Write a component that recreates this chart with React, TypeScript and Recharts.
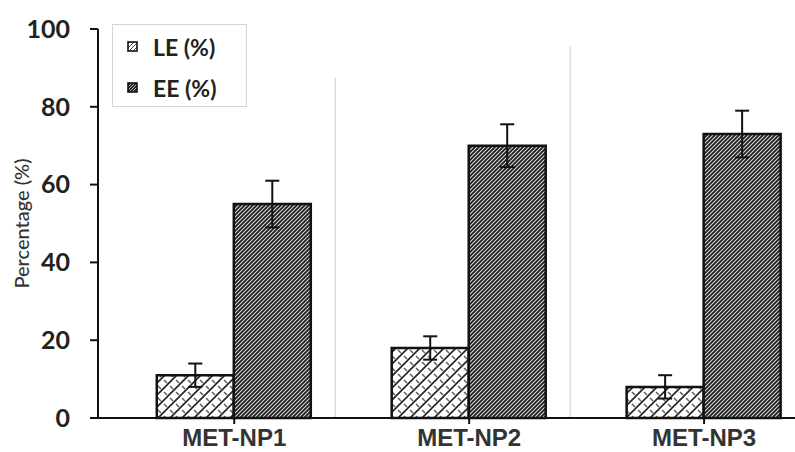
import React from "react";
import { Bar, BarChart, ErrorBar, ReferenceLine, XAxis, YAxis } from "recharts";

const categories = ["MET-NP1", "MET-NP2", "MET-NP3"];
const leValues = [11, 18, 8];
const leErrors = [3, 3, 3];
const eeValues = [55, 70, 73];
const eeErrors = [6, 5.5, 6];
const yTicks = [0, 20, 40, 60, 80, 100];
const legendItems = [
    { label: "LE (%)", fill: "url(#leIcon)" },
    { label: "EE (%)", fill: "url(#eeIcon)" },
];

const data = categories.map((name, i) => ({
    x: i,
    name,
    le: leValues[i],
    leErr: leErrors[i],
    ee: eeValues[i],
    eeErr: eeErrors[i],
}));

const FONT = "Lato, 'Open Sans', sans-serif";

function LegendBox() {
    return (
        <div style={{ position: "absolute", left: 112, top: 24, border: "1px solid #d4d4d4", width: 135, height: 83, boxSizing: "border-box", padding: "1px 0 0 14px", background: "#fff" }}>
            <svg width={0} height={0} style={{ position: "absolute" }}>
                <defs>
                    <pattern id="leIcon" width="4" height="4" patternUnits="userSpaceOnUse">
                        <rect width="4" height="4" fill="#fff" />
                        <path d="M0,4 L4,0" stroke="#444" strokeWidth={1} />
                    </pattern>
                    <pattern id="eeIcon" width="3" height="3" patternUnits="userSpaceOnUse">
                        <rect width="3" height="3" fill="#222" />
                        <path d="M0,3 L3,0" stroke="#ddd" strokeWidth={0.8} />
                    </pattern>
                </defs>
            </svg>
            {legendItems.map((it) => (
                <div key={it.label} style={{ display: "flex", alignItems: "center", height: 41 }}>
                    <svg width={11} height={11} style={{ marginRight: 15 }}>
                        <rect x={1} y={1} width={9} height={9} fill={it.fill} stroke="#111" strokeWidth={1.6} />
                    </svg>
                    <span style={{ fontFamily: FONT, fontWeight: 700, fontSize: 23, color: "#222" }}>{it.label}</span>
                </div>
            ))}
        </div>
    );
}

export default function App() {
    return (
        <div style={{ position: "relative", width: 795, height: 452, overflow: "hidden", background: "#fff" }}>
            <style>{`body{margin:0}`}</style>
            <BarChart width={795} height={452} data={data} barSize={77} barGap={0} margin={{ top: 29, right: 0, left: 0, bottom: 0 }}>
                <defs>
                    <pattern id="leHatch" width="12" height="12" patternUnits="userSpaceOnUse">
                        <rect width="12" height="12" fill="#fff" />
                        <path d="M0,12 L12,0 M-2,2 L2,-2 M10,14 L14,10" stroke="#222" strokeWidth={1.6} />
                        <path d="M2,2 L5,5 M8,8 L11,11" stroke="#555" strokeWidth={1.4} />
                    </pattern>
                    <pattern id="eeHatch" width="4" height="4" patternUnits="userSpaceOnUse">
                        <rect width="4" height="4" fill="#1e1e1e" />
                        <path d="M0,4 L4,0 M-1,1 L1,-1 M3,5 L5,3" stroke="#d8d8d8" strokeWidth={1.1} />
                    </pattern>
                </defs>
                <XAxis
                    dataKey="x"
                    type="number"
                    domain={[-0.58, 2.387]}
                    allowDataOverflow
                    ticks={[0, 1, 2]}
                    tickFormatter={(v) => categories[v] ?? ""}
                    height={34}
                    tickSize={6}
                    tickMargin={5}
                    stroke="#111"
                    strokeWidth={2}
                    tick={{ fill: "#333", fontSize: 24, fontWeight: 700, fontFamily: "Arial, 'Liberation Sans', sans-serif" }}
                />
                <YAxis
                    domain={[0, 100]}
                    ticks={yTicks}
                    width={98}
                    tickSize={8}
                    tickMargin={20}
                    stroke="#111"
                    strokeWidth={2}
                    tick={{ fill: "#222", fontSize: 25, fontWeight: 700, fontFamily: FONT }}
                    label={{ value: "Percentage (%)", angle: -90, position: "insideLeft", offset: 22, style: { fill: "#333", fontSize: 20, fontWeight: 500, fontFamily: FONT, textAnchor: "middle" } }}
                />
                <ReferenceLine segment={[{ x: 0.43, y: 87.5 }, { x: 0.43, y: 0 }]} stroke="#dcdcdc" strokeWidth={1.5} />
                <ReferenceLine segment={[{ x: 1.43, y: 95.5 }, { x: 1.43, y: 0 }]} stroke="#dcdcdc" strokeWidth={1.5} />
                <Bar dataKey="le" name="LE (%)" fill="url(#leHatch)" stroke="#111" strokeWidth={2.5} isAnimationActive={false}>
                    <ErrorBar dataKey="leErr" width={7} stroke="#111" strokeWidth={2} />
                </Bar>
                <Bar dataKey="ee" name="EE (%)" fill="url(#eeHatch)" stroke="#111" strokeWidth={2.5} isAnimationActive={false}>
                    <ErrorBar dataKey="eeErr" width={7} stroke="#111" strokeWidth={2} />
                </Bar>
            </BarChart>
            <LegendBox />
        </div>
    );
}
